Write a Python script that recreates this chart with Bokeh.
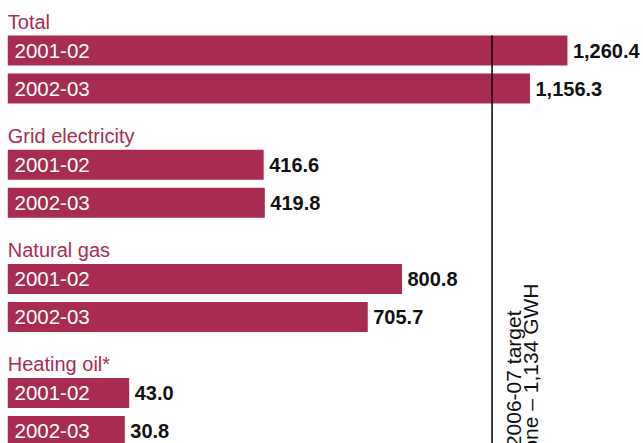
import numpy as np
from bokeh.plotting import figure
from bokeh.models import Range1d, ColumnDataSource
from bokeh.core.properties import value
from bokeh.embed import file_html
from bokeh.resources import INLINE

# ---- data ----
categories = ["Total", "Grid electricity", "Natural gas", "Heating oil*"]
years = ["2001-02", "2002-03"]
values_2001_02 = [1260.4, 416.6, 800.8, 43.0]
values_2002_03 = [1156.3, 419.8, 705.7, 30.8]
target_value = 1134          # labelled target (GWH)
target_line_pos = 1051       # where the line is drawn in the picture
target_text_1 = "2006-07 target"
target_text_2 = "milestone \u2013 1,134 GWH"

# ---- style / layout ----
BAR = "#A82C51"
FONT = "Liberation Sans"
W, H = 643, 443
bar_left = -294.2            # bars begin left of zero (label box)
group_top0 = 35.0
group_step = 114.2
bar_h = 30.0
bar_gap = 38.0

p = figure(width=W, height=H, output_backend="svg", toolbar_location=None,
           x_range=Range1d(-314.44, 1471.67), y_range=Range1d(H, 0),
           x_axis_type=None, y_axis_type=None, min_border=0)
p.outline_line_color = None
p.grid.visible = False
p.background_fill_color = "white"
p.border_fill_color = "white"

tops = [group_top0 + i * group_step for i in range(len(categories))]
y1 = [t + bar_h / 2 for t in tops]
y2 = [t + bar_gap + bar_h / 2 for t in tops]

def fmt(v):
    return f"{v:,.1f}"

src = ColumnDataSource(dict(
    y=y1 + y2,
    v=values_2001_02 + values_2002_03,
    left=[bar_left] * (2 * len(categories)),
    yr=[years[0]] * len(categories) + [years[1]] * len(categories),
    lab=[fmt(v) for v in values_2001_02 + values_2002_03],
))

p.hbar(y="y", left="left", right="v", height=bar_h, source=src,
       fill_color=BAR, line_color=None)

# year labels inside bars
p.text(x="left", y="y", text="yr", source=src, x_offset=6.7,
       text_color="white", text_font=value(FONT), text_font_size="20.5px",
       text_baseline="middle", text_align="left")

# value labels
p.text(x="v", y="y", text="lab", source=src, x_offset=5.5,
       text_color="#111111", text_font=value(FONT), text_font_size="20px",
       text_font_style="bold", text_baseline="middle", text_align="left")

# group titles
p.text(x=[bar_left] * len(categories), y=[t - 13.7 for t in tops], text=categories,
       text_color=BAR, text_font=value(FONT), text_font_size="20px",
       text_baseline="middle", text_align="left")

# target line
p.segment(x0=[target_line_pos], y0=[group_top0], x1=[target_line_pos], y1=[H],
          line_color="black", line_width=1.5)

# target texts (rotated)
p.text(x=[target_line_pos], y=[310], text=[target_text_1], x_offset=21, angle=np.pi / 2,
       text_color="#111111", text_font=value(FONT), text_font_size="21px",
       text_baseline="alphabetic", text_align="right")
p.text(x=[target_line_pos], y=[283], text=[target_text_2], x_offset=38.5, angle=np.pi / 2,
       text_color="#111111", text_font=value(FONT), text_font_size="21px",
       text_baseline="alphabetic", text_align="right")

open("out.html", "w").write(file_html(p, INLINE))
